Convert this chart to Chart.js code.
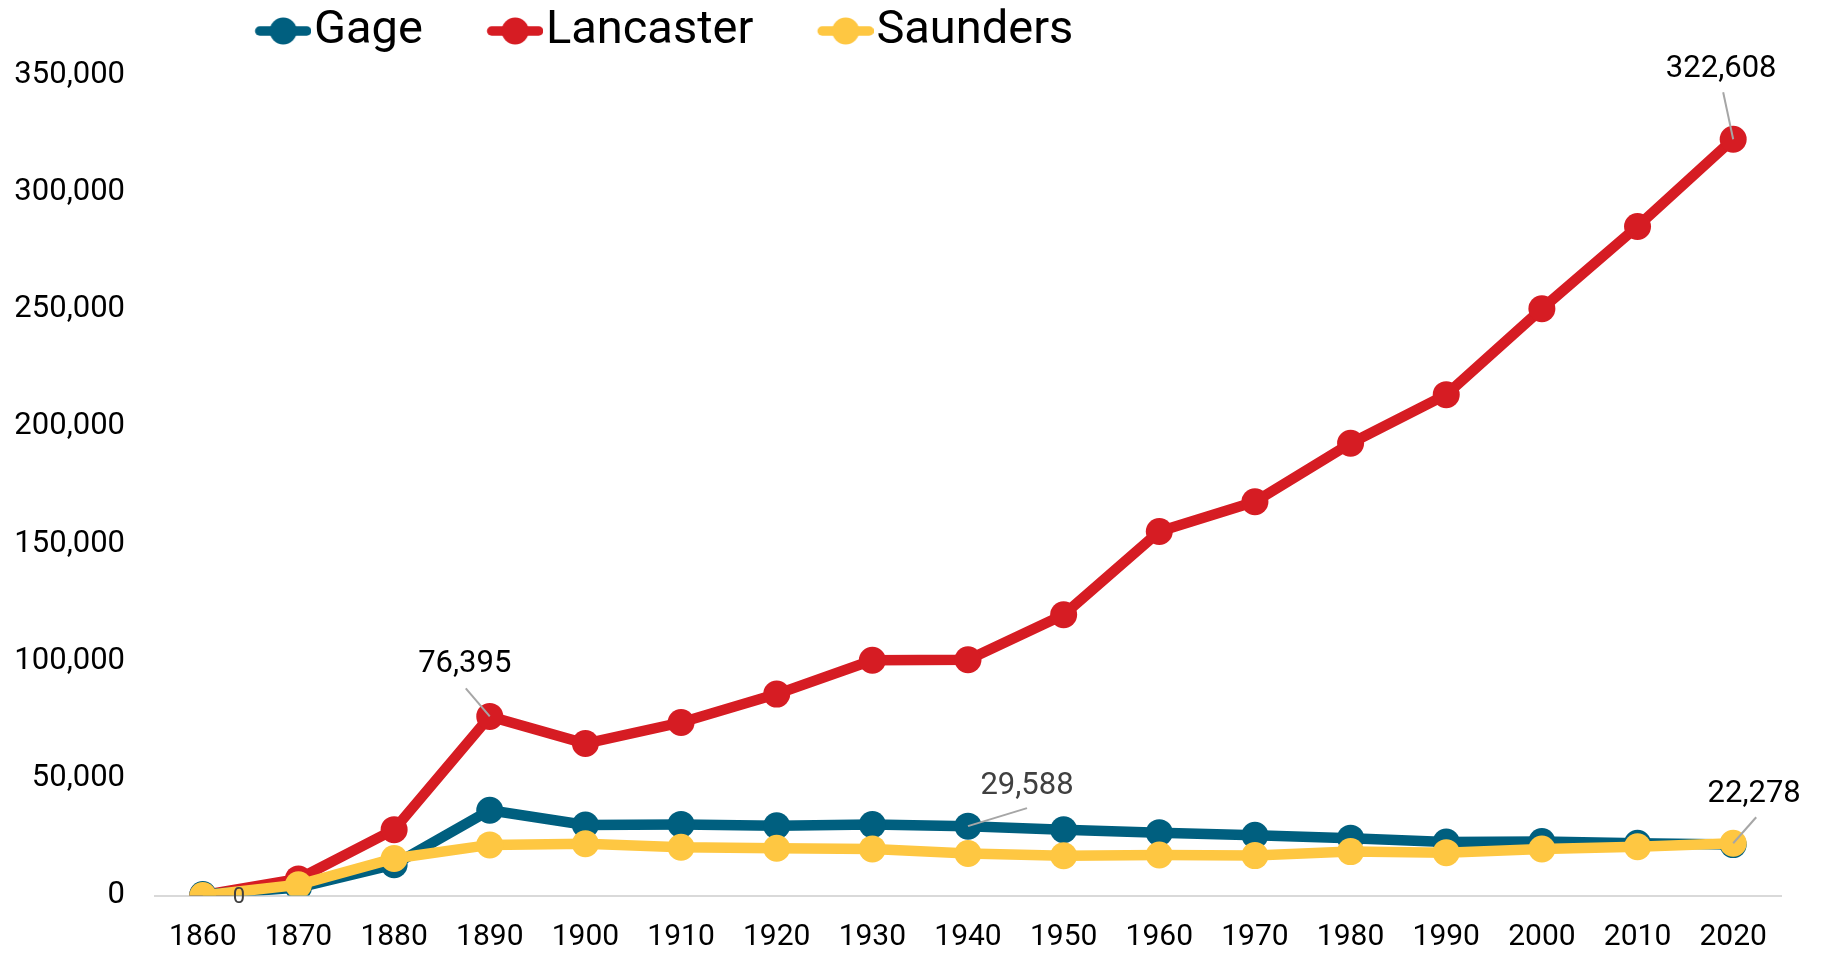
<!DOCTYPE html>
<html>
<head>
<meta charset="utf-8">
<script src="https://cdn.jsdelivr.net/npm/chart.js@4.4.1/dist/chart.umd.min.js"></script>
<style>
  html, body { margin: 0; padding: 0; background: #fff; }
  #wrap { width: 1821px; height: 955px; }
</style>
</head>
<body>
<div id="wrap"><canvas id="myChart" width="1821" height="955"></canvas></div>
<script>
// census years
const years = ["1860", "1870", "1880", "1890", "1900", "1910", "1920", "1930", "1940",
  "1950", "1960", "1970", "1980", "1990", "2000", "2010", "2020"];

const gage = [421, 3359, 13164, 36344, 30051, 30325, 29721, 30242, 29588,
  28052, 26818, 25731, 24456, 22794, 22993, 22311, 21704];
const lancaster = [153, 7074, 28090, 76395, 64835, 73793, 85902, 100324, 100585,
  119742, 155272, 167972, 192884, 213641, 250291, 285407, 322608];
const saunders = [0, 4547, 15810, 21577, 22085, 20589, 20167, 19874, 17892,
  16923, 17270, 17018, 18716, 18285, 19830, 20780, 22278];

const yMin = 0;
const yMax = 350000;
const yStep = 50000;

const colors = { gage: "#005f7f", lancaster: "#d61c23", saunders: "#fec742" };

// labelled points: dataset index, point index, text offset, leader end offset
const callouts = [
  { ds: 1, i: 3, tx: -25, ty: -52, lx: -24, ly: -28, color: "#000", size: 31 },
  { ds: 1, i: 16, tx: -12, ty: -70, lx: -10, ly: -47, color: "#000", size: 31 },
  { ds: 0, i: 8, tx: 59, ty: -40, lx: 59, ly: -18, color: "#404040", size: 31 },
  { ds: 2, i: 16, tx: 21, ty: -49, lx: 23, ly: -26, color: "#000", size: 31 },
  { ds: 2, i: 0, tx: 36, ty: 2, lx: null, ly: null, color: "#404040", size: 22 }
];

const FONT = "Roboto";

// legend marker: line with a dot, drawn at the right end of a wider canvas
function makeMarker(color) {
  const c = document.createElement("canvas");
  c.width = 127; c.height = 30;
  const g = c.getContext("2d");
  g.strokeStyle = color;
  g.lineWidth = 9.5;
  g.lineCap = "round";
  g.beginPath();
  g.moveTo(75.5, 15);
  g.lineTo(122.5, 15);
  g.stroke();
  g.fillStyle = color;
  g.beginPath();
  g.arc(99, 15, 13.5, 0, Math.PI * 2);
  g.fill();
  return c;
}
const markers = [makeMarker(colors.gage), makeMarker(colors.lancaster), makeMarker(colors.saunders)];

const calloutPlugin = {
  id: "callouts",
  afterDatasetsDraw(chart) {
    const ctx = chart.ctx;
    const xs = chart.scales.x, ys = chart.scales.y;
    ctx.save();
    callouts.forEach(c => {
      const v = chart.data.datasets[c.ds].data[c.i];
      const px = xs.getPixelForValue(c.i);
      const py = ys.getPixelForValue(v);
      if (c.lx !== null) {
        ctx.strokeStyle = "#a6a6a6";
        ctx.lineWidth = 2;
        ctx.beginPath();
        ctx.moveTo(px, py);
        ctx.lineTo(px + c.lx, py + c.ly);
        ctx.stroke();
      }
      ctx.fillStyle = c.color;
      ctx.font = c.size + "px " + FONT;
      ctx.textAlign = "center";
      ctx.textBaseline = "middle";
      ctx.fillText(v.toLocaleString("en-US"), px + c.tx, py + c.ty);
    });
    ctx.restore();
  }
};

// fixed legend height and position, so the plot area lands where the original has it
const legendPlace = {
  id: "legendPlace",
  afterInit(chart) {
    const lg = chart.legend;
    const fit = lg.fit.bind(lg);
    lg.fit = function () { fit(); this.height = 72; };
  },
  afterLayout(chart) {
    const lg = chart.legend;
    const h = lg.bottom - lg.top;
    lg.left = 191;
    lg.right = 1821;
    lg.top = -6.5;
    lg.bottom = lg.top + h;
  }
};

function series(label, data, color, order) {
  return {
    label: label,
    data: data,
    borderColor: color,
    backgroundColor: color,
    pointBackgroundColor: color,
    pointBorderColor: color,
    borderWidth: 10.5,
    pointRadius: 13.5,
    pointBorderWidth: 0,
    pointHoverRadius: 13.5,
    tension: 0,
    fill: false,
    order: order
  };
}

const ctx = document.getElementById("myChart").getContext("2d");
const myChart = new Chart(ctx, {
  type: "line",
  data: {
    labels: years,
    datasets: [
      series("Gage", gage, colors.gage, 1),
      series("Lancaster", lancaster, colors.lancaster, 2),
      series("Saunders", saunders, colors.saunders, 0)
    ]
  },
  options: {
    responsive: false,
    devicePixelRatio: 1,
    animation: false,
    layout: { padding: { top: 3, right: 40, left: 0, bottom: 0 } },
    plugins: {
      tooltip: { enabled: false },
      legend: {
        position: "top",
        align: "start",
        labels: {
          usePointStyle: true,
          pointStyleWidth: 85.5,
          padding: 14,
          color: "#000",
          font: { family: FONT, size: 47 },
          sort: (a, b) => a.datasetIndex - b.datasetIndex,
          generateLabels(chart) {
            const items = Chart.defaults.plugins.legend.labels.generateLabels(chart);
            items.forEach(it => { it.pointStyle = markers[it.datasetIndex]; });
            return items;
          }
        }
      }
    },
    scales: {
      x: {
        type: "category",
        offset: true,
        grid: { display: false, drawTicks: false },
        border: { display: true, color: "#d9d9d9", width: 2 },
        ticks: { color: "#000", font: { family: FONT, size: 30 }, padding: 23.5, maxRotation: 0, autoSkip: false },
        afterFit(scale) { scale.height = 59.5; }
      },
      y: {
        min: yMin,
        max: yMax,
        grid: { display: false, drawTicks: false },
        border: { display: false },
        ticks: {
          stepSize: yStep,
          color: "#000",
          padding: 30,
          font: { family: FONT, size: 31 },
          callback: v => v.toLocaleString("en-US")
        },
        afterFit(scale) { scale.width = 155; }
      }
    }
  },
  plugins: [calloutPlugin, legendPlace]
});
</script>
</body>
</html>
